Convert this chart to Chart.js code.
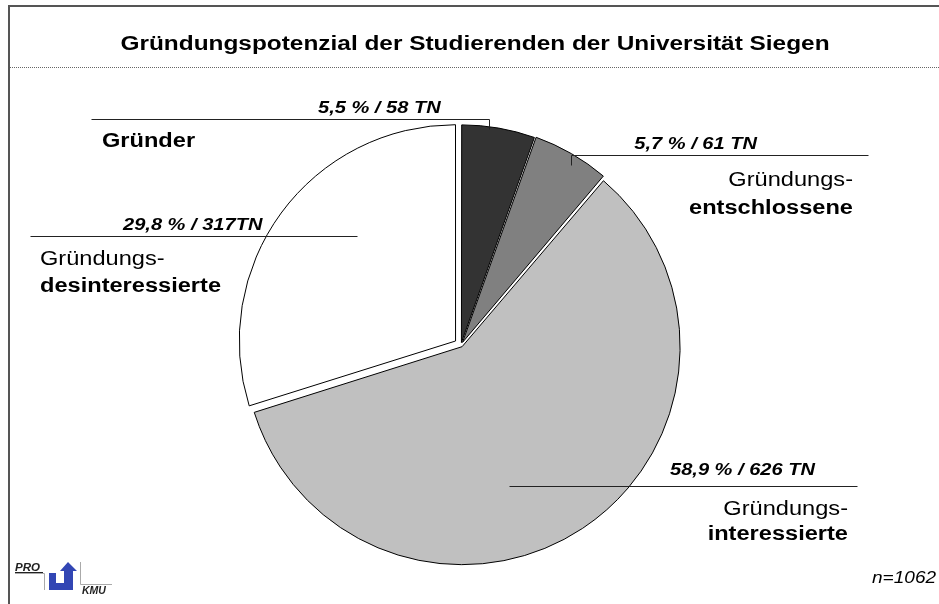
<!DOCTYPE html>
<html>
<head>
<meta charset="utf-8">
<script src="https://cdn.jsdelivr.net/npm/chart.js@4.4.1/dist/chart.umd.min.js"></script>
<style>
  html, body { margin: 0; padding: 0; background: #fff; overflow: hidden; }
  canvas { display: block; }
</style>
</head>
<body>
<canvas id="pie" width="939" height="604"></canvas>
<script>
'use strict';

// ── Data ──────────────────────────────────────────────────────────────────────

const categories = ['Gründer', 'Gründungsentschlossene', 'Gründungsinteressierte', 'Gründungsdesinteressierte'];
const nameLines = [[null, 'Gründer'], ['Gründungs-', 'entschlossene'], ['Gründungs-', 'interessierte'], ['Gründungs-', 'desinteressierte']];
const participants = [58, 61, 626, 317];
const valueLabels = ['5,5 % / 58 TN', '5,7 % / 61 TN', '58,9 % / 626 TN', '29,8 % / 317TN'];
const sliceColors = ['#333333', '#808080', '#c0c0c0', '#ffffff'];
const sampleNote = 'n=1062';
const chartTitle = 'Gründungspotenzial der Studierenden der Universität Siegen';

// ── Layout ────────────────────────────────────────────────────────────────────

const FONT = "'Liberation Sans', Arial, sans-serif";
const STRETCH = 1.18; // the source text is a bit wider than plain Arial

// where each callout sits (value text, name block, leader line)
const callouts = [
  { value: [318, 113, 'left'],  name: { x: 102, y: [null, 147], align: 'left' },  leader: [[91, 119], [489, 119], [489, 129]] },
  { value: [757, 149, 'right'], name: { x: 853, y: [186, 214], align: 'right' }, leader: [[868, 155], [571, 155], [571, 165]] },
  { value: [670, 475, 'left'],  name: { x: 848, y: [515, 540], align: 'right' }, leader: [[509, 486], [857, 486]] },
  { value: [123, 230, 'left'],  name: { x: 40,  y: [265, 292], align: 'left' },  leader: [[30, 236], [357, 236]] },
];

function drawText(ctx, text, x, y, align, font, sx = STRETCH) {
  ctx.save();
  ctx.font = font;
  ctx.textAlign = align;
  ctx.textBaseline = 'alphabetic';
  ctx.translate(x, y);
  ctx.scale(sx, 1);
  ctx.fillText(text, 0, 0);
  ctx.restore();
}

// ── Decorations ───────────────────────────────────────────────────────────────

const framePlugin = {
  id: 'frame',
  beforeDraw(chart) {
    const ctx = chart.ctx;
    ctx.save();
    ctx.fillStyle = '#fff';
    ctx.fillRect(0, 0, chart.width, chart.height);

    // outer frame (left + top edge)
    ctx.strokeStyle = '#555';
    ctx.lineWidth = 2;
    ctx.beginPath();
    ctx.moveTo(9, chart.height);
    ctx.lineTo(9, 6);
    ctx.lineTo(chart.width, 6);
    ctx.stroke();

    // title
    ctx.fillStyle = '#000';
    drawText(ctx, chartTitle, 475, 50, 'center', `bold 20px ${FONT}`, 1.22);

    // dotted rule under the title
    ctx.strokeStyle = '#666';
    ctx.lineWidth = 1;
    ctx.setLineDash([1, 1]);
    ctx.beginPath();
    ctx.moveTo(10, 67.5);
    ctx.lineTo(chart.width, 67.5);
    ctx.stroke();
    ctx.setLineDash([]);

    drawLogo(ctx);
    ctx.restore();
  },
};

function drawLogo(ctx) {
  // grey guide lines
  ctx.strokeStyle = '#aaa';
  ctx.lineWidth = 1;
  ctx.beginPath();
  ctx.moveTo(15, 573.5); ctx.lineTo(44.5, 573.5); ctx.lineTo(44.5, 590);
  ctx.moveTo(80.5, 562); ctx.lineTo(80.5, 584.5); ctx.lineTo(112, 584.5);
  ctx.stroke();

  ctx.fillStyle = '#222';
  drawText(ctx, 'PRO', 15, 571, 'left', `italic bold 11px ${FONT}`, 1.05);
  ctx.fillRect(15, 572, 28, 1);
  drawText(ctx, 'KMU', 82, 594, 'left', `italic bold 10px ${FONT}`, 1.05);

  // blue "U" with up arrow
  ctx.fillStyle = '#3246b4';
  ctx.beginPath();
  ctx.moveTo(49, 573);
  ctx.lineTo(56, 573);
  ctx.lineTo(56, 583);
  ctx.lineTo(64, 583);
  ctx.lineTo(64, 571);
  ctx.lineTo(60, 571);
  ctx.lineTo(68, 562);
  ctx.lineTo(77, 571);
  ctx.lineTo(73, 571);
  ctx.lineTo(73, 590);
  ctx.lineTo(49, 590);
  ctx.closePath();
  ctx.fill();
}

const calloutPlugin = {
  id: 'callouts',
  afterDraw(chart) {
    const ctx = chart.ctx;
    ctx.save();
    callouts.forEach((c, i) => {
      ctx.strokeStyle = '#222';
      ctx.lineWidth = 1;
      ctx.beginPath();
      c.leader.forEach(([x, y], k) => {
        const px = Math.round(x) + 0.5, py = Math.round(y) + 0.5;
        k ? ctx.lineTo(px, py) : ctx.moveTo(px, py);
      });
      ctx.stroke();

      ctx.fillStyle = '#000';
      drawText(ctx, valueLabels[i], c.value[0], c.value[1], c.value[2], `italic bold 17px ${FONT}`);

      const [plain, bold] = nameLines[i];
      if (plain) drawText(ctx, plain, c.name.x, c.name.y[0], c.name.align, `20px ${FONT}`);
      drawText(ctx, bold, c.name.x, c.name.y[1], c.name.align, `bold 20px ${FONT}`);
    });

    drawText(ctx, sampleNote, 872, 583, 'left', `italic 17px ${FONT}`, 1.12);
    ctx.restore();
  },
};

// ── Chart ─────────────────────────────────────────────────────────────────────

new Chart(document.getElementById('pie'), {
  type: 'pie',
  data: {
    labels: categories,
    datasets: [{
      data: participants,
      backgroundColor: sliceColors,
      borderColor: '#000',
      borderWidth: 1,
      offset: [10, 12, 8, 27],
    }],
  },
  options: {
    responsive: false,
    animation: false,
    radius: 216,
    layout: { padding: { left: 245, right: 939 - 677, top: 129, bottom: 604 - 561 } },
    plugins: { legend: { display: false }, tooltip: { enabled: false } },
  },
  plugins: [framePlugin, calloutPlugin],
});
</script>
</body>
</html>
